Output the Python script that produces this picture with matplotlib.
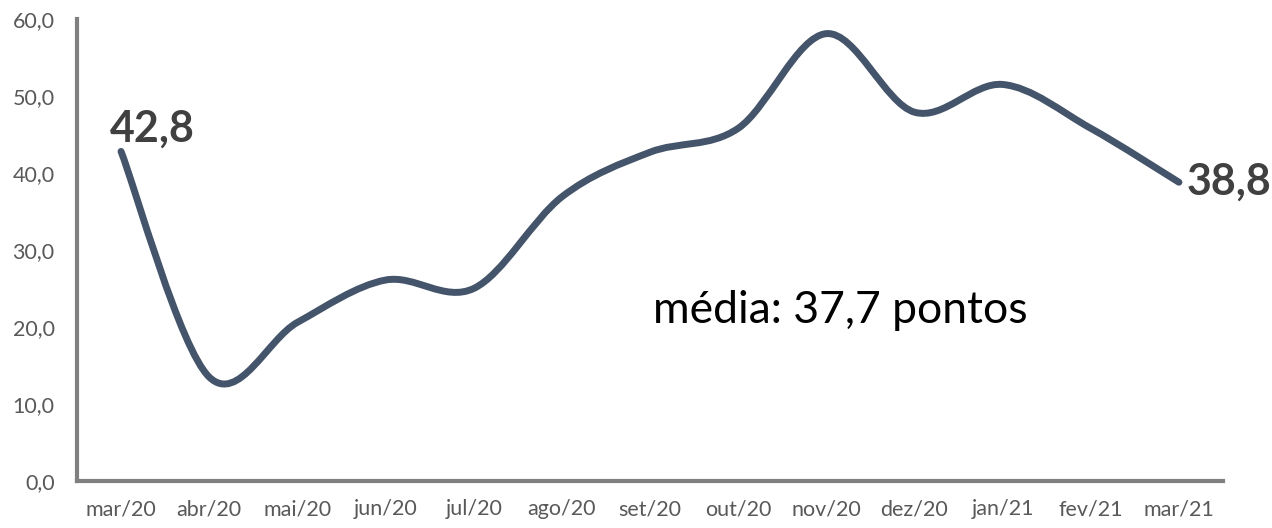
import matplotlib
matplotlib.use('Agg')
import matplotlib.pyplot as plt
from matplotlib.path import Path
from matplotlib.patches import PathPatch
import numpy as np

# dados
meses = ['mar/20', 'abr/20', 'mai/20', 'jun/20', 'jul/20', 'ago/20', 'set/20',
         'out/20', 'nov/20', 'dez/20', 'jan/21', 'fev/21', 'mar/21']
valores = [42.8, 13.5, 20.6, 26.1, 25.0, 36.9, 42.7, 45.8, 58.1, 47.9, 51.5, 45.8, 38.8]
yticks = [0, 10, 20, 30, 40, 50, 60]
media_txt = 'média: 37,7 pontos'

plt.rcParams['font.family'] = ['Lato', 'DejaVu Sans']

fig = plt.figure(figsize=(12.72, 5.28), dpi=100)
ax = fig.add_axes([0.0605, 0.089, 0.901, 0.875])

# linha suavizada (estilo Excel: bezier com pontos de controle a 1/6)
x = np.arange(len(valores), dtype=float)
y = np.array(valores, dtype=float)
verts = [(x[0], y[0])]
codes = [Path.MOVETO]
n = len(x)
for i in range(n - 1):
    p0 = np.array([x[max(i - 1, 0)], y[max(i - 1, 0)]])
    p1 = np.array([x[i], y[i]])
    p2 = np.array([x[i + 1], y[i + 1]])
    p3 = np.array([x[min(i + 2, n - 1)], y[min(i + 2, n - 1)]])
    c1 = p1 + (p2 - p0) / 6.0
    c2 = p2 - (p3 - p1) / 6.0
    verts += [tuple(c1), tuple(c2), tuple(p2)]
    codes += [Path.CURVE4] * 3
patch = PathPatch(Path(verts, codes), facecolor='none', edgecolor='#44546A',
                  lw=5, capstyle='round', joinstyle='round')
ax.add_patch(patch)

ax.set_xlim(-0.5, len(meses) - 0.5)
ax.set_ylim(0, 60)
ax.set_xticks(x)
ax.set_xticklabels(meses)
ax.set_yticks(yticks)
ax.set_yticklabels([f'{v:.1f}'.replace('.', ',') for v in yticks])
ax.tick_params(length=0, labelsize=15.5, colors='#595959')
ax.tick_params(axis='x', pad=13)
ax.tick_params(axis='y', pad=16)

for s in ['top', 'right']:
    ax.spines[s].set_visible(False)
for s in ['left', 'bottom']:
    ax.spines[s].set_color('#808080')
    ax.spines[s].set_linewidth(3)

# rótulos do primeiro e último ponto
ax.text(x[0] - 0.13, y[0] + 3.0, f'{valores[0]:.1f}'.replace('.', ','),
        fontsize=31, fontweight='bold', color='#404040', va='center', ha='left')
ax.text(x[-1] + 0.09, y[-1] + 0.1, f'{valores[-1]:.1f}'.replace('.', ','),
        fontsize=31, fontweight='bold', color='#404040', va='center', ha='left')

ax.text(6.03, 22.2, media_txt, fontsize=32, color='black', va='center', ha='left')

fig.savefig('out.png', dpi=100)
